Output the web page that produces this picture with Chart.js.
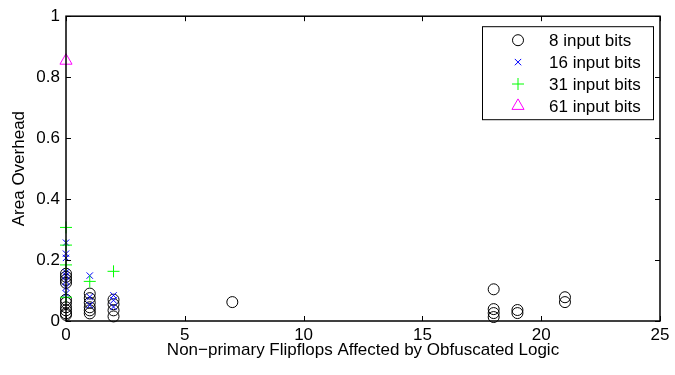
<!DOCTYPE html>
<html>
<head>
<meta charset="utf-8">
<script src="https://cdn.jsdelivr.net/npm/chart.js@4.4.1/dist/chart.umd.min.js"></script>
<style>
  html, body { margin: 0; padding: 0; background: #fff; }
  #wrap { width: 675px; height: 375px; }
</style>
</head>
<body>
<div id="wrap"><canvas id="c" width="675" height="375"></canvas></div>
<script>
// Area overhead versus non-primary flipflops affected, per input width
const bits8X  = [0, 0, 0, 0, 0, 0, 0, 0, 0, 0, 1, 1, 1, 1, 1, 1, 2, 2, 2, 2, 7, 18, 18, 18, 18, 19, 19, 21, 21];
const bits8Y  = [0.155, 0.145, 0.135, 0.125, 0.07, 0.06, 0.045, 0.035, 0.025, 0.02,
                 0.09, 0.075, 0.06, 0.045, 0.035, 0.025, 0.07, 0.055, 0.035, 0.015,
                 0.062, 0.104, 0.039, 0.026, 0.013, 0.036, 0.026, 0.078, 0.062];
const bits16X = [0, 0, 0, 0, 0, 0, 0, 0, 1, 1, 1, 2, 2, 2];
const bits16Y = [0.257, 0.221, 0.207, 0.16, 0.15, 0.13, 0.11, 0.09, 0.149, 0.079, 0.052, 0.084, 0.068, 0.046];
const bits31X = [0, 0, 0, 0, 1, 2];
const bits31Y = [0.307, 0.249, 0.184, 0.078, 0.13, 0.163];
const bits61X = [0];
const bits61Y = [0.854];

const xTicks = [0, 5, 10, 15, 20, 25];
const yTicks = [0, 0.2, 0.4, 0.6, 0.8, 1];
const seriesNames = ['8 input bits', '16 input bits', '31 input bits', '61 input bits'];

const FONT = 'Liberation Sans, Arial, sans-serif';
const FSIZE = 17;

function pts(xs, ys) { return xs.map((x, i) => ({ x: x, y: ys[i] })); }

const series = [
  { label: seriesNames[0], data: pts(bits8X, bits8Y),  pointStyle: 'circle',   pointRadius: 5.5, borderColor: '#000000', order: 4 },
  { label: seriesNames[1], data: pts(bits16X, bits16Y), pointStyle: 'crossRot', pointRadius: 4.5, borderColor: '#0000ff', order: 3 },
  { label: seriesNames[2], data: pts(bits31X, bits31Y), pointStyle: 'cross',    pointRadius: 6,   borderColor: '#00ff00', order: 2 },
  { label: seriesNames[3], data: pts(bits61X, bits61Y), pointStyle: 'triangle', pointRadius: 7,   borderColor: '#ff00ff', order: 1 }
].map(s => Object.assign(s, {
  backgroundColor: 'rgba(0,0,0,0)',
  pointBackgroundColor: 'rgba(0,0,0,0)',
  pointBorderColor: s.borderColor,
  pointBorderWidth: 1,
  showLine: false,
  clip: false
}));

// Box around the plot with inward ticks on all four sides
const frame = {
  id: 'frame',
  afterDatasetsDraw(chart) {
    const { ctx, chartArea: a, scales } = chart;
    const L = 5;
    ctx.save();
    ctx.strokeStyle = '#000';
    ctx.lineWidth = 1;
    ctx.beginPath();
    xTicks.forEach(v => {
      const px = Math.round(scales.x.getPixelForValue(v)) + 0.5;
      ctx.moveTo(px, a.bottom); ctx.lineTo(px, a.bottom - L);
      ctx.moveTo(px, a.top);    ctx.lineTo(px, a.top + L);
    });
    yTicks.forEach(v => {
      const py = Math.round(scales.y.getPixelForValue(v)) + 0.5;
      ctx.moveTo(a.left, py);  ctx.lineTo(a.left + L, py);
      ctx.moveTo(a.right, py); ctx.lineTo(a.right - L, py);
    });
    ctx.stroke();
    ctx.lineWidth = 1.5;
    ctx.strokeRect(a.left, a.top, a.right - a.left, a.bottom - a.top);
    ctx.restore();
  }
};

// Legend box in the upper right of the plot
const boxLegend = {
  id: 'boxLegend',
  afterDraw(chart) {
    const { ctx, chartArea: a } = chart;
    const w = 171, h = 93;
    const bx = a.right - 178, by = a.top + 10;
    ctx.save();
    ctx.fillStyle = '#fff';
    ctx.fillRect(bx, by, w, h);
    ctx.strokeStyle = '#000';
    ctx.lineWidth = 1;
    ctx.strokeRect(bx + 0.5, by + 0.5, w, h);
    ctx.font = FSIZE + 'px ' + FONT;
    ctx.textBaseline = 'middle';
    ctx.textAlign = 'left';
    chart.data.datasets.forEach((ds, i) => {
      const cy = by + 14 + i * 21.9;
      ctx.strokeStyle = ds.pointBorderColor;
      ctx.fillStyle = 'rgba(0,0,0,0)';
      ctx.lineWidth = 1;
      Chart.helpers.drawPoint(ctx, {
        pointStyle: ds.pointStyle,
        radius: ds.pointRadius,
        borderWidth: 1,
        rotation: 0
      }, bx + 36, cy);
      ctx.fillStyle = '#000';
      ctx.fillText(ds.label, bx + 67, cy + 1);
    });
    ctx.restore();
  }
};

new Chart(document.getElementById('c'), {
  type: 'scatter',
  data: { datasets: series },
  options: {
    responsive: false,
    animation: false,
    devicePixelRatio: 1,
    layout: { padding: { left: 0, right: 15, top: 12, bottom: 0 } },
    plugins: { legend: { display: false }, tooltip: { enabled: false } },
    scales: {
      x: {
        type: 'linear', min: 0, max: 25,
        afterBuildTicks(s) { s.ticks = xTicks.map(v => ({ value: v })); },
        afterFit(s) { s.height = 54; },
        grid: { display: false, drawTicks: false },
        border: { display: false },
        ticks: { font: { family: FONT, size: FSIZE }, color: '#000', padding: 4, maxRotation: 0,
                 callback: v => String(v) },
        title: { display: true, text: 'Non\u2212primary Flipflops Affected by Obfuscated Logic',
                 font: { family: FONT, size: FSIZE }, color: '#000', padding: { top: 0, bottom: 14 } }
      },
      y: {
        type: 'linear', min: 0, max: 1,
        afterBuildTicks(s) { s.ticks = yTicks.map(v => ({ value: v })); },
        afterFit(s) { s.width = 66; },
        grid: { display: false, drawTicks: false },
        border: { display: false },
        ticks: { font: { family: FONT, size: FSIZE }, color: '#000', padding: 6,
                 callback: v => String(v) },
        title: { display: true, text: 'Area Overhead',
                 font: { family: FONT, size: FSIZE }, color: '#000', padding: { top: 9, bottom: 0 } }
      }
    }
  },
  plugins: [frame, boxLegend]
});
</script>
</body>
</html>
